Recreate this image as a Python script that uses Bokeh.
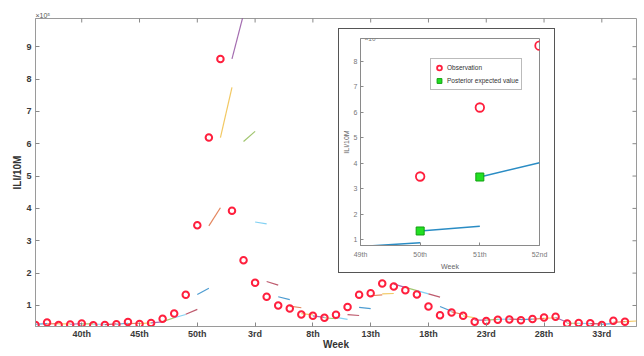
import math
from bokeh.plotting import figure
from bokeh.models import Range1d, FixedTicker, Label, Legend, LegendItem, ColumnDataSource, Title
from bokeh.embed import file_html
from bokeh.resources import INLINE

# ---------------- data (ILI per 10M, x10^5) ----------------
weeks = list(range(36, 53)) + list(range(1, 36))   # 52 weekly points, 36th .. 35th

obs = [0.40, 0.47, 0.40, 0.41, 0.44, 0.39, 0.40, 0.42, 0.49, 0.43,
       0.46, 0.59, 0.75, 1.33, 3.48, 6.19, 8.62, 3.93, 2.40, 1.70,
       1.27, 1.00, 0.91, 0.72, 0.68, 0.62, 0.71, 0.95, 1.33, 1.38,
       1.68, 1.59, 1.47, 1.34, 0.97, 0.70, 0.78, 0.68, 0.50, 0.52,
       0.56, 0.57, 0.54, 0.58, 0.63, 0.65, 0.44, 0.46, 0.45, 0.40,
       0.53, 0.50]

# posterior expected value at week t and one-step forecast for week t+1
post = [0.42, 0.43, 0.43, 0.42, 0.43, 0.42, 0.41, 0.42, 0.44, 0.44,
        0.46, 0.50, 0.62, 0.73, 1.34, 3.46, 6.19, 8.62, 6.07, 3.58,
        1.74, 1.27, 0.98, 0.75, 0.68, 0.62, 0.63, 0.72, 0.94, 1.30,
        1.36, 1.66, 1.56, 1.46, 1.36, 0.97, 0.80, 0.68, 0.55, 0.55,
        0.57, 0.58, 0.56, 0.58, 0.60, 0.63, 0.45, 0.45, 0.44, 0.42,
        0.48, 0.50]
forecast = [0.44, 0.44, 0.43, 0.44, 0.43, 0.42, 0.43, 0.45, 0.45, 0.46,
            0.49, 0.62, 0.72, 0.88, 1.53, 4.02, 7.74, 10.0, 6.38, 3.52,
            1.63, 1.18, 0.93, 0.71, 0.63, 0.59, 0.57, 0.69, 0.90, 1.33,
            1.37, 1.56, 1.46, 1.36, 1.26, 0.82, 0.72, 0.62, 0.55, 0.57,
            0.58, 0.57, 0.58, 0.60, 0.62, 0.48, 0.45, 0.44, 0.43, 0.44,
            0.50, 0.52]

main_tick_weeks = [40, 45, 50, 3, 8, 13, 18, 23, 28, 33]
main_y_ticks = [1, 2, 3, 4, 5, 6, 7, 8, 9]

inset_weeks = [49, 50, 51, 52]
inset_tick_labels = ["49th", "50th", "51th", "52nd"]
inset_y_ticks = [1, 2, 3, 4, 5, 6, 7, 8]
inset_obs_weeks = [50, 51, 52]
inset_post_weeks = [50, 51]
inset_line_weeks = [49, 50, 51]

matlab_colors = ["#0072BD", "#D95319", "#EDB120", "#7E2F8E", "#77AC30", "#4DBEEE", "#A2142F"]


def ordinal(n):
    if 10 <= n % 100 <= 20:
        suf = "th"
    else:
        suf = {1: "st", 2: "nd", 3: "rd"}.get(n % 10, "th")
    return f"{n}{suf}"


idx = list(range(len(weeks)))
FONT = "Liberation Sans"
RED = "#ff1f3d"
X0, X1 = 0, 52
Y0, Y1 = 0.35, 9.87

# ---------------- main figure ----------------
p = figure(width=629, height=348, x_range=Range1d(X0, X1), y_range=Range1d(Y0, Y1),
           output_backend="svg", toolbar_location=None, name="main",
           min_border_left=27, min_border_right=1, min_border_top=14, min_border_bottom=24)
p.xgrid.visible = False
p.ygrid.visible = False
p.outline_line_color = "#9a9a9a"
p.background_fill_color = "white"
p.border_fill_color = "white"

seg_src = ColumnDataSource(dict(
    x0=idx, x1=[i + 1 for i in idx], y0=post, y1=forecast,
    color=[matlab_colors[i % 7] for i in idx]))
p.segment(x0="x0", y0="y0", x1="x1", y1="y1", line_color="color", line_width=1.2,
          line_alpha=0.7, source=seg_src)
p.scatter(idx, obs, marker="circle", size=6.5, fill_color=None, line_color=RED, line_width=2)

tick_idx = [weeks.index(w) for w in main_tick_weeks]
bx = p.xaxis[0]
ly = p.yaxis[0]
bx.ticker = FixedTicker(ticks=tick_idx)
bx.major_label_overrides = {i: ordinal(weeks[i]) for i in tick_idx}
bx.axis_label = "Week"
ly.ticker = FixedTicker(ticks=main_y_ticks)
ly.major_label_overrides = {t: str(t) for t in main_y_ticks}
ly.axis_label = "ILI/10M"

for ax in [bx, ly]:
    ax.axis_line_color = "#9a9a9a"
    ax.major_tick_line_color = "#888888"
    ax.major_tick_in = 4
    ax.major_tick_out = 0
    ax.minor_tick_line_color = None
    ax.major_label_text_font = FONT
    ax.major_label_text_font_style = "bold"
    ax.major_label_text_font_size = "9px"
    ax.major_label_text_color = "#3a3a3a"
    ax.axis_label_text_font = FONT
    ax.axis_label_text_font_style = "bold"
    ax.axis_label_text_font_size = "10px"
    ax.axis_label_text_color = "#333333"
bx.major_label_standoff = 2
bx.axis_label_standoff = -3
ly.major_label_standoff = 4
ly.axis_label_standoff = 0

# box ticks on top and right edges (half-clipped dashes = inward ticks)
p.scatter(tick_idx, [Y1] * len(tick_idx), marker="dash", angle=math.pi / 2, size=8,
          line_color="#888888", line_width=1)
p.scatter([X1] * len(main_y_ticks), main_y_ticks, marker="dash", size=8,
          line_color="#888888", line_width=1)

p.add_layout(Title(text="×10⁵", align="left", text_font=FONT, text_font_size="7px",
                   text_font_style="normal", text_color="#555555", standoff=0, offset=0), "above")

# ---------------- inset figure ----------------
wpos = {w: i for i, w in enumerate(weeks)}
q = figure(width=215, height=243,
           x_range=Range1d(wpos[inset_weeks[0]], wpos[inset_weeks[-1]]),
           y_range=Range1d(0.77, 8.9),
           output_backend="svg", toolbar_location=None, name="inset",
           min_border_left=19, min_border_right=15, min_border_top=9, min_border_bottom=25)
q.xgrid.visible = False
q.ygrid.visible = False
q.outline_line_color = "#8a8a8a"

lw = [wpos[w] for w in inset_line_weeks]
q.segment(x0=lw, y0=[post[i] for i in lw], x1=[i + 1 for i in lw], y1=[forecast[i] for i in lw],
          line_color="#2a8cc4", line_width=1.5)
pw = [wpos[w] for w in inset_post_weeks]
sq = q.scatter(pw, [post[i] for i in pw], marker="square", size=8,
               fill_color="#22e022", line_color="#11a011", line_width=1)
ow = [wpos[w] for w in inset_obs_weeks]
circ = q.scatter(ow, [obs[i] for i in ow], marker="circle", size=8.5,
                 fill_color=None, line_color=RED, line_width=1.8)

qx = q.xaxis[0]
qy = q.yaxis[0]
qx.ticker = FixedTicker(ticks=[wpos[w] for w in inset_weeks])
qx.major_label_overrides = {wpos[w]: lab for w, lab in zip(inset_weeks, inset_tick_labels)}
qx.axis_label = "Week"
qy.ticker = FixedTicker(ticks=inset_y_ticks)
qy.major_label_overrides = {t: str(t) for t in inset_y_ticks}
qy.axis_label = "ILI/10M"
for ax in [qx, qy]:
    ax.axis_line_color = "#8a8a8a"
    ax.major_tick_line_color = "#8a8a8a"
    ax.major_tick_in = 3
    ax.major_tick_out = 0
    ax.minor_tick_line_color = None
    ax.major_label_text_font = FONT
    ax.major_label_text_font_size = "7px"
    ax.major_label_text_color = "#777777"
    ax.axis_label_text_font = FONT
    ax.axis_label_text_font_style = "normal"
    ax.axis_label_text_font_size = "7px"
    ax.axis_label_text_color = "#666666"
qx.major_label_standoff = 5
qx.axis_label_standoff = 2
qy.major_label_standoff = 3
qy.axis_label_standoff = 1

q.add_layout(Label(x=wpos[inset_weeks[0]], y=8.9, text="×10⁵", text_font=FONT,
                   text_font_size="6.5px", text_color="#777777", text_baseline="middle", x_offset=4))

legend = Legend(items=[LegendItem(label="Observation", renderers=[circ]),
                       LegendItem(label="Posterior expected value", renderers=[sq])],
                location=(70, 155), orientation="vertical")
legend.label_text_font = FONT
legend.label_text_font_size = "6.5px"
legend.label_text_color = "#333333"
legend.border_line_color = "#777777"
legend.border_line_width = 1
legend.padding = 2
legend.spacing = 0
legend.margin = 0
legend.label_standoff = 2
legend.label_height = 12
legend.glyph_height = 13
legend.glyph_width = 12
legend.background_fill_alpha = 1
q.add_layout(legend)

template = """
{% block contents %}
{% from macros import embed %}
<div style="position:absolute; left:8px; top:4px;">{{ embed(roots.main) }}</div>
<div style="position:absolute; left:338px; top:28px; border:1px solid #555555; background:white; line-height:0;">{{ embed(roots.inset) }}</div>
{% endblock %}
"""

html = file_html([p, q], INLINE, title="ILI", template=template)
open("out.html", "w").write(html)
